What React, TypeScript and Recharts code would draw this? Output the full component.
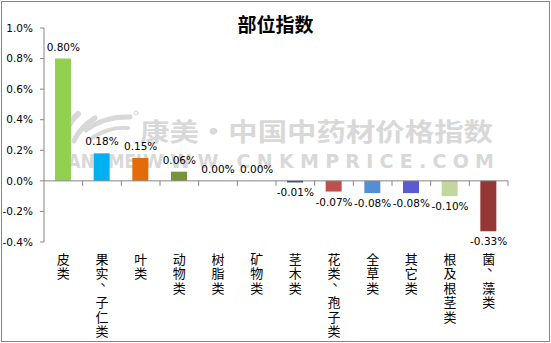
import React from "react";
import { ComposedChart, Bar, Line, XAxis, YAxis, Cell, LabelList, ReferenceLine } from "recharts";

const categories = [
  "皮类",
  "果实、子仁类",
  "叶类",
  "动物类",
  "树脂类",
  "矿物类",
  "茎木类",
  "花类、孢子类",
  "全草类",
  "其它类",
  "根及根茎类",
  "菌、藻类",
];
const values = [0.8, 0.18, 0.15, 0.06, 0.0, 0.0, -0.01, -0.07, -0.08, -0.08, -0.1, -0.33];
const barColors = [
  "#92D050",
  "#00B0F0",
  "#E36C09",
  "#77933C",
  "#4F81BD",
  "#4F81BD",
  "#1F3864",
  "#C0504D",
  "#558ED5",
  "#5B5BD0",
  "#C3D69B",
  "#953735",
];
const yTicks = [-0.4, -0.2, 0, 0.2, 0.4, 0.6, 0.8, 1.0];
const title = "部位指数";
const watermarkCn = "康美·中国中药材价格指数";
const watermarkBrand = "KANGMEI";
const watermarkUrl = "WWW.CNKMPRICE.COM";

const data = categories.map((name, i) => ({ name, value: values[i] }));

const W = 551;
const H = 343;
const margin = { top: 28, right: 43, bottom: 6, left: 0 };
const yAxisWidth = 44;
const xAxisHeight = 95;
const plotLeft = margin.left + yAxisWidth;
const plotWidth = W - plotLeft - margin.right;
const plotTop = margin.top;
const plotHeight = H - margin.top - margin.bottom - xAxisHeight;
const domain: [number, number] = [-0.4, 1.0];
const zeroY = plotTop + (plotHeight * (domain[1] - 0)) / (domain[1] - domain[0]);
const halfBand = plotWidth / categories.length / 2;
const axisColor = "#868686";
const wmColor = "#d8d8d8";
const numFont = "DejaVu Sans";
const cjkFont = "Noto Sans CJK SC";

const XTick = (props: any) => {
  const { x, y, payload } = props;
  const chars = Array.from(String(payload.value));
  const step = 14.4;
  const commaLift = 8;
  return (
    <g>
      <line x1={x + halfBand} x2={x + halfBand} y1={zeroY} y2={zeroY + 5} stroke={axisColor} />
      <text x={x} y={y} textAnchor="middle" fontSize={13} fontFamily={cjkFont} fill="#000">
        {chars.map((c, i) => {
          const isComma = c === "、";
          const prevComma = i > 0 && chars[i - 1] === "、";
          let dy = i === 0 ? 22 : step;
          if (isComma) dy -= commaLift;
          if (prevComma) dy += commaLift;
          return (
            <tspan key={i} x={isComma ? x + 5 : x} dy={dy}>
              {c}
            </tspan>
          );
        })}
      </text>
    </g>
  );
};

const renderLabel = (props: any) => {
  const { x, y, value } = props;
  const v = Number(value);
  const neg = v < 0;
  return (
    <text
      x={Number(x)}
      y={neg ? Number(y) + 14 : Number(y) - 8}
      textAnchor="middle"
      fontSize={10.5}
      fontFamily={numFont}
      fill="#000"
    >
      {v.toFixed(2) + "%"}
    </text>
  );
};

export default function App() {
  return (
    <div style={{ position: "absolute", left: 0, top: 0, width: W, height: H, background: "#fff" }}>
      <div
        style={{
          position: "absolute",
          left: 1,
          top: 1,
          width: 549,
          height: 341,
          border: `1px solid ${axisColor}`,
          boxSizing: "border-box",
        }}
      />
      <svg width={W} height={H} style={{ position: "absolute", left: 0, top: 0 }}>
        <g fill="none" stroke={wmColor} strokeLinecap="round">
          <path d="M64 141 Q66 124 78 114" strokeWidth={6} />
          <path d="M74 141 Q80 127 95 118" strokeWidth={5} />
          <path d="M86 130 Q105 116 130 117" strokeWidth={5} />
          <path d="M92 138 Q110 126 128 128" strokeWidth={4} />
          <circle cx={136} cy={113} r={2} strokeWidth={1} />
        </g>
        <text
          x={140}
          y={141}
          fontSize={25}
          fontWeight="bold"
          fontFamily={cjkFont}
          fill={wmColor}
          textLength={353}
          lengthAdjust="spacingAndGlyphs"
        >
          {watermarkCn}
        </text>
        <text
          x={55}
          y={168}
          fontSize={19}
          fontWeight="bold"
          fontFamily="DejaVu Sans"
          fill={wmColor}
          textLength={87}
          lengthAdjust="spacingAndGlyphs"
        >
          {watermarkBrand}
        </text>
        <text
          x={143}
          y={168}
          fontSize={19}
          fontWeight="bold"
          fontFamily="DejaVu Sans"
          fill={wmColor}
          textLength={351}
          lengthAdjust="spacing"
        >
          {watermarkUrl}
        </text>
        <text
          x={W / 2}
          y={32}
          textAnchor="middle"
          fontSize={19}
          fontWeight="bold"
          fontFamily={cjkFont}
          fill="#000"
        >
          {title}
        </text>
      </svg>
      <div style={{ position: "absolute", left: 0, top: 0 }}>
        <ComposedChart width={W} height={H} data={data} margin={margin}>
          <YAxis
            domain={domain}
            ticks={yTicks}
            interval={0}
            allowDataOverflow
            width={yAxisWidth}
            tickFormatter={(v: number) => v.toFixed(1) + "%"}
            axisLine={{ stroke: axisColor }}
            tickLine={{ stroke: axisColor }}
            tickSize={4}
            tickMargin={7}
            tick={{ fontSize: 10.5, fontFamily: numFont, fill: "#000" }}
          />
          <XAxis
            dataKey="name"
            interval={0}
            axisLine={false}
            tickLine={false}
            tickSize={0}
            tickMargin={0}
            height={xAxisHeight}
            tick={<XTick />}
          />
          <ReferenceLine y={0} stroke={axisColor} />
          <Bar dataKey="value" barSize={16} isAnimationActive={false}>
            {data.map((d, i) => (
              <Cell key={d.name} fill={barColors[i]} />
            ))}
          </Bar>
          <Line
            dataKey="value"
            stroke="none"
            dot={false}
            activeDot={false}
            legendType="none"
            isAnimationActive={false}
          >
            <LabelList dataKey="value" content={renderLabel} />
          </Line>
        </ComposedChart>
      </div>
    </div>
  );
}
